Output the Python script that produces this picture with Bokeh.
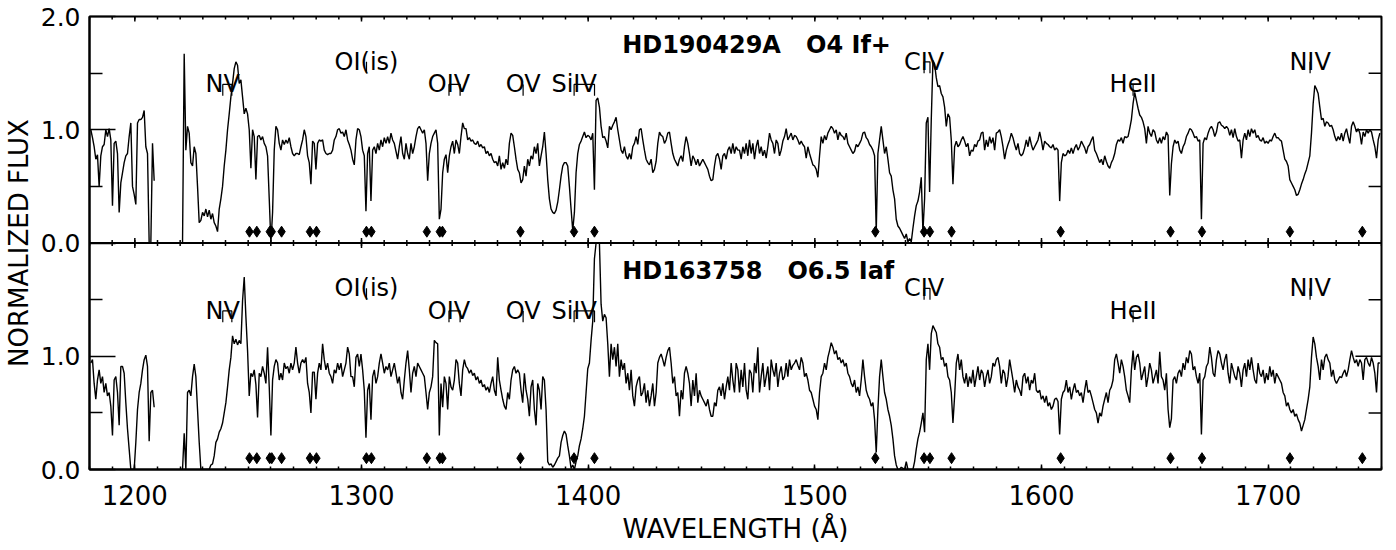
import numpy as np
from bokeh.plotting import figure
from bokeh.models import (Range1d, LinearAxis, FixedTicker, Span,
                          PrintfTickFormatter)
from bokeh.core.properties import value
from bokeh.embed import file_html
from bokeh.resources import INLINE

# ---------------- data ----------------
# uniformly sampled wavelength grid of both IUE spectra
WAVE_START = 1178.37   # Angstrom, first sample
WAVE_STEP = 0.7357     # Angstrom per sample

# HD190429A  O4 If+  (normalized flux), None = no data
flux_hd190429a = [
    None, None, None,
    1.00, 0.93, 0.85, 0.74, 0.78, 0.50, 0.77, 0.85, 0.87, 1.00,
    0.94, 1.01, 0.91, 0.33, 0.88, 0.90, 0.79, 0.27, 0.53, 0.62,
    0.71, 0.77, 0.79, 0.94, 1.06, 0.50, 0.43, 0.34, 1.06, 1.09,
    1.09, 1.11, 1.17, 0.85, 0.79, 0.00, 0.00, 0.88, 0.55,
    None, None, None, None, None, None, None, None, None, None, None, None, None, None, None, None,
    0.00, 1.67, 0.82, 1.03, 0.97, 0.71, 0.68, 0.85, 0.79, 0.50,
    0.18, 0.20, 0.27, 0.24, 0.30, 0.23, 0.29, 0.21, 0.26, 0.18,
    0.15, 0.10, 0.30, 0.39, 0.50, 0.68, 0.82, 1.00, 1.14, 1.29,
    1.41, 1.54, 1.60, 1.57, 1.41, 1.44, 1.29, 1.14, 1.19, 1.14,
    1.00, 0.66, 1.00, 0.94, 0.56, 0.94, 0.95, 0.91, 0.94, 0.88,
    0.85, 0.77, 0.39, 0.00, 0.27, 0.82, 1.03, 1.00, 0.88, 0.82,
    0.91, 0.87, 0.91, 0.88, 0.93, 0.85, 0.79, 0.77, 0.79, 0.79,
    0.78, 0.85, 0.91, 1.00, 0.94,
    0.77, 0.71, 0.52, 0.90, 0.88, 0.65, 0.88, 0.91, 0.90, 0.91,
    0.82, 0.79, 0.78, 0.79, 0.79, 0.82, 0.91, 0.94, 1.00, 1.01,
    0.97, 0.98, 0.94, 1.00, 0.91, 0.87, 0.82, 0.74, 0.69, 0.91,
    1.01, 1.00, 0.94, 0.82, 0.77, 0.28, 0.79, 0.85, 0.37, 0.82,
    0.85, 0.79, 0.88, 0.82, 0.91, 0.85, 0.93, 0.88, 0.94, 0.88,
    0.97, 0.91, 0.88, 0.81, 0.74, 0.85, 0.94, 0.79, 0.74, 0.88,
    0.79, 0.74, 0.88, 0.79, 0.85, 0.94, 1.01, 1.03, 1.00, 0.97,
    1.00, 0.88, 0.55, 0.79, 0.88, 0.94, 0.97, 1.00, 0.88, 0.21,
    0.30, 0.62, 0.74, 0.78, 0.62, 0.77, 0.85, 0.90, 0.79, 0.91,
    0.87, 0.79, 0.94, 1.06, 1.01, 1.01, 0.91, 0.93, 0.90, 0.91,
    0.88, 0.87, 0.90, 0.85, 0.87, 0.84, 0.85, 0.79, 0.81, 0.77,
    0.79, 0.74, 0.71, 0.72, 0.68, 0.77, 0.65, 0.71, 0.66, 0.74,
    0.69, 0.88, 0.97, 0.95, 0.85, 0.74, 0.65, 0.62, 0.53, 0.56,
    0.68, 0.59, 0.74, 0.68, 0.77, 0.74, 0.85, 0.79, 0.88, 0.68,
    0.77, 0.85, 0.98, 0.79, 0.56, 0.39, 0.30, 0.27, 0.26, 0.29,
    0.36, 0.47, 0.59, 0.68, 0.71, 0.71, 0.68, 0.50, 0.30, 0.11,
    0.27, 0.62, 0.79, 0.87, 0.90, 0.94, 0.98, 0.93, 0.95, 0.94,
    0.91, 0.97, 0.47, 1.26, 1.28, 1.20, 1.03, 0.93, 0.94, 0.90,
    0.84, 1.03, 1.00, 1.04, 1.07, 1.11, 1.00, 0.91, 0.82, 0.79,
    0.85, 0.77, 0.74, 0.79, 0.74, 0.85, 0.88, 0.94, 0.87, 1.00,
    1.01, 0.91, 0.82, 0.74, 0.71, 0.69, 0.74, 0.62, 0.65, 0.72,
    0.88, 0.98, 0.95, 0.94, 0.88, 0.91, 0.97, 0.98, 0.88, 0.79,
    0.74, 0.71, 0.68, 0.74, 0.77, 0.72, 0.85, 0.94, 0.88, 0.79,
    0.68, 0.77, 0.74, 0.69, 0.74, 0.68, 0.71, 0.74, 0.71, 0.68,
    0.65, 0.59, 0.55, 0.56, 0.68, 0.77, 0.79, 0.74, 0.65, 0.77,
    0.79, 0.74, 0.82, 0.85, 0.79, 0.88, 0.79, 0.85, 0.82,
    0.82, 0.74, 0.85, 0.79, 0.88, 0.77, 0.91, 0.79, 0.88, 0.74,
    0.85, 0.91, 0.79, 0.85, 0.77, 0.82, 0.75, 0.85, 0.97, 0.91,
    0.88, 0.79, 0.91, 0.88, 0.77, 0.82, 0.90, 0.94, 1.01, 0.91,
    0.94, 0.97, 0.91, 0.95, 0.94, 0.91, 0.87, 0.90, 0.87, 0.85,
    0.75, 0.85, 0.79, 0.74, 0.69, 0.68, 0.65, 0.58, 0.77, 0.94,
    0.88, 0.95, 0.91, 0.97, 1.00, 1.03, 1.01, 0.97, 1.00, 0.91,
    0.98, 0.95, 0.94, 0.91, 0.97, 0.88, 0.85, 0.82, 0.79, 0.81,
    0.87, 0.85, 0.88, 0.91, 0.97, 0.98, 0.93, 0.91, 0.87, 0.85,
    0.82, 0.77, 0.10, 0.79, 0.91, 1.03, 0.91, 0.79, 0.85, 0.74,
    0.62, 0.59, 0.47, 0.39, 0.21, 0.15, 0.13, 0.10, 0.07, 0.04,
    0.08, 0.01, 0.04, 0.01, 0.13, 0.24, 0.33, 0.37, 0.45, 0.58,
    0.10, 0.39, 1.06, 1.11, 0.45, 1.09, 1.61, 1.58, 1.46, 1.38,
    1.39, 1.32, 1.29, 1.20, 1.03, 1.14, 1.11, 0.91, 0.52, 0.85,
    0.90, 0.85, 0.87, 0.91, 0.94, 0.90, 0.85, 0.88, 0.77, 0.82,
    0.81, 0.87, 0.85, 0.90, 0.91, 0.97, 0.98, 0.82, 0.91, 0.85,
    0.94, 0.88, 0.93, 0.82, 0.97, 0.98, 1.00, 0.94, 0.85, 0.74,
    0.82, 0.87, 0.91, 0.97, 0.93, 0.87, 0.82, 0.88, 0.79, 0.77,
    0.79, 0.84, 0.91, 0.85, 0.94, 0.87, 0.82, 0.85, 0.88, 0.91,
    0.98, 0.91, 0.82, 0.90, 0.88, 0.87, 0.85, 0.84, 0.87, 0.82,
    0.84, 0.82, 0.37, 0.71, 0.79, 0.77, 0.78, 0.82, 0.79, 0.84,
    0.79, 0.84, 0.87, 0.82, 0.85, 0.90, 0.87, 0.84, 0.79, 0.85,
    0.87, 0.91, 0.94, 0.82, 0.79, 0.75, 0.71, 0.74, 0.69, 0.77,
    0.72, 0.68, 0.66, 0.71, 0.74, 0.79, 0.87, 0.91, 0.90, 0.93,
    0.88, 0.94, 0.93, 0.94, 1.01, 1.09, 1.23, 1.33, 1.26, 1.19,
    1.13, 1.11, 1.07, 1.01, 0.88, 1.03, 0.97, 0.94, 1.00, 0.98,
    0.91, 0.88, 0.93, 0.88, 0.94, 0.91, 0.98, 0.95, 0.42,
    0.70, 0.85, 0.91, 0.88, 0.90, 0.82, 0.79, 0.85, 0.88, 0.94,
    0.97, 1.01, 1.00, 0.97, 0.93, 0.94, 0.90, 0.91, 0.21, 0.88,
    0.93, 0.91, 0.97, 1.01, 1.03, 1.00, 0.94, 0.98, 1.06, 1.07,
    1.04, 1.03, 1.01, 1.03, 1.01, 0.95, 1.00, 0.93, 1.01, 0.94,
    0.90, 0.91, 0.75, 0.91, 0.97, 0.91, 1.00, 0.94, 1.01, 0.97,
    1.00, 0.93, 0.95, 0.91, 0.90, 0.93, 0.88, 0.90, 0.88, 0.91,
    0.90, 0.94, 0.97, 0.93, 0.93, 0.91, 0.90, 0.82, 0.74, 0.72,
    0.68, 0.56, 0.53, 0.50, 0.47, 0.42, 0.43, 0.47, 0.52, 0.56,
    0.61, 0.65, 0.71, 0.77, 0.97, 1.23, 1.39, 1.36, 1.32, 1.20,
    1.09, 1.10, 1.03, 1.07, 1.06, 1.03, 1.04, 1.00, 0.94, 0.90,
    0.94, 0.91, 0.97, 0.90, 0.97, 1.01, 0.94, 0.88, 1.03, 1.07,
    1.03, 0.98, 1.01, 0.97, 0.87, 0.98, 0.94, 1.00, 0.97, 1.00,
    0.98, 0.91, 0.85, 0.75, 0.91, 0.97,
]

# HD163758  O6.5 Iaf  (normalized flux), None = no data
flux_hd163758 = [
    None, None, None,
    0.94, 0.97, 0.76, 0.62, 0.79, 0.88, 0.76, 0.82, 0.68, 0.76,
    0.65, 0.68, 0.56, 0.30, 0.79, 0.82, 0.68, 0.39, 0.91, 0.91,
    0.85, 0.59, 0.36, 0.18, 0.00, 0.00, 0.00, 0.24, 0.53, 0.68,
    0.76, 0.88, 0.97, 1.01, 0.91, 0.25, 0.68, 0.70, 0.55,
    None, None, None, None, None, None, None, None, None, None, None, None, None, None, None, None,
    0.00, 0.32, 0.00, 0.68, 0.70, 0.65, 0.82, 0.93, 0.82, 0.53,
    0.24, 0.00, 0.00, 0.00, 0.00, 0.00, 0.00, 0.04, 0.05, 0.12,
    0.24, 0.27, 0.33, 0.36, 0.41, 0.50, 0.59, 0.73, 0.88, 0.99,
    1.18, 1.11, 1.15, 1.10, 1.14, 1.11, 1.49, 1.70, 1.35, 1.05,
    0.65, 0.85, 0.82, 0.88, 0.75, 0.46, 0.85, 0.82, 0.91, 0.85,
    0.76, 1.08, 0.73, 0.30, 0.79, 0.91, 0.97, 0.94, 0.79, 0.85,
    0.79, 0.94, 0.89, 0.91, 0.85, 0.94, 0.88, 0.94, 1.08, 0.94,
    0.85, 0.94, 0.97, 0.94, 0.99,
    0.76, 0.68, 0.50, 0.86, 0.86, 0.62, 0.85, 0.94, 0.88, 1.11,
    0.97, 0.88, 0.94, 0.85, 0.82, 0.76, 0.88, 0.85, 0.94, 0.88,
    0.94, 0.82, 0.88, 0.94, 1.08, 1.02, 0.82, 0.82, 0.73, 0.99,
    1.02, 0.91, 1.02, 0.88, 0.70, 0.28, 0.70, 0.76, 0.44, 0.82,
    0.88, 0.76, 0.82, 0.94, 1.02, 0.94, 0.85, 0.91, 0.88, 0.94,
    0.82, 0.88, 0.94, 0.85, 0.76, 0.82, 0.68, 0.62, 0.79, 0.94,
    1.05, 0.88, 0.68, 0.85, 0.91, 0.82, 0.94, 0.91, 0.88, 0.85,
    0.82, 0.68, 0.53, 0.68, 0.73, 0.82, 1.14, 1.12, 1.11, 0.30,
    0.76, 0.55, 0.82, 0.76, 0.53, 0.82, 0.73, 0.70, 0.79, 0.97,
    0.94, 0.76, 0.65, 0.88, 0.97, 0.91, 0.89, 0.85, 0.88, 0.83,
    0.85, 0.79, 0.82, 0.76, 0.79, 0.73, 0.75, 0.70, 0.73, 0.68,
    0.76, 0.82, 0.70, 0.65, 0.99, 0.79, 0.70, 0.62, 0.56, 0.53,
    0.68, 0.62, 0.79, 0.88, 0.91, 0.85, 0.88, 0.85, 0.70, 0.59,
    0.85, 0.70, 0.62, 0.47, 0.73, 0.79, 0.53, 0.39, 0.76, 0.70,
    0.53, 0.82, 0.79, 0.53, 0.07, 0.04, 0.05, 0.02, 0.04, 0.07,
    0.10, 0.12, 0.24, 0.30, 0.34, 0.31, 0.21, 0.12, 0.01, 0.04,
    0.00, 0.07, 0.12, 0.21, 0.27, 0.36, 0.47, 0.68, 0.89, 0.94,
    1.14, 1.31, 1.86, 2.00, 2.00, 2.00, 1.46, 1.31, 1.37, 1.34,
    1.11, 0.82, 1.11, 0.97, 1.08, 0.91, 1.11, 0.82, 0.97, 0.88,
    0.94, 0.76, 0.85, 0.70, 0.88, 0.65, 0.56, 0.73, 0.79, 0.82,
    0.65, 0.68, 0.76, 0.59, 0.70, 0.56, 0.65, 0.76, 0.56, 0.68,
    0.94, 0.99, 1.02, 0.97, 0.91, 0.99, 1.05, 1.08, 0.94, 0.76,
    0.82, 0.65, 0.68, 0.47, 0.70, 0.62, 0.85, 0.91, 0.85, 0.76,
    0.56, 0.79, 0.65, 0.85, 0.59, 0.70, 0.65, 0.62, 0.59, 0.56,
    0.62, 0.53, 0.47, 0.47, 0.59, 0.56, 0.70, 0.73, 0.65, 0.76,
    0.62, 0.73, 0.82, 0.70, 0.94, 0.79, 0.68, 0.94, 0.88,
    0.68, 0.88, 0.73, 0.94, 0.70, 0.62, 0.88, 0.85, 0.68, 0.94,
    0.85, 1.08, 0.68, 0.82, 0.94, 0.73, 0.82, 0.91, 0.70, 0.97,
    0.88, 0.82, 0.94, 0.73, 0.85, 0.91, 0.79, 0.82, 0.94, 0.82,
    0.97, 0.88, 0.92, 0.94, 0.97, 0.92, 0.88, 0.99, 0.94, 0.82,
    0.85, 0.79, 0.70, 0.68, 0.62, 0.56, 0.53, 0.44, 0.68, 0.82,
    0.85, 0.94, 0.88, 0.99, 1.05, 1.12, 1.08, 1.02, 1.05, 0.97,
    0.99, 0.94, 0.97, 0.91, 0.94, 0.85, 0.82, 0.76, 0.73, 0.79,
    0.68, 0.73, 0.65, 0.79, 0.97, 0.82, 0.70, 0.65, 0.62, 0.56,
    0.59, 0.44, 0.15, 0.53, 0.82, 0.97, 0.82, 0.68, 0.62, 0.53,
    0.47, 0.39, 0.27, 0.12, 0.04, 0.00, 0.00, 0.02, 0.01, 0.00,
    0.07, 0.00, 0.00, 0.00, 0.00, 0.07, 0.18, 0.27, 0.33, 0.41,
    0.50, 0.33, 0.97, 1.11, 0.88, 1.20, 1.27, 1.24, 1.21, 1.11,
    1.08, 0.97, 0.99, 0.91, 0.94, 0.82, 0.79, 0.68, 0.41, 0.65,
    0.94, 1.02, 0.88, 0.97, 0.82, 0.76, 0.85, 0.73, 0.82, 0.76,
    0.88, 0.73, 0.82, 0.91, 0.79, 0.88, 0.85, 0.73, 0.82, 0.88,
    0.76, 0.82, 0.94, 0.91, 0.97, 0.99, 0.91, 0.76, 0.88, 0.85,
    0.73, 0.82, 0.97, 0.88, 0.79, 0.68, 0.79, 0.73, 0.70, 0.65,
    0.82, 0.85, 0.76, 0.82, 0.70, 0.79, 0.76, 0.85, 0.70, 0.68,
    0.70, 0.62, 0.65, 0.59, 0.65, 0.56, 0.59, 0.53, 0.56, 0.62,
    0.63, 0.60, 0.31, 0.62, 0.68, 0.70, 0.79, 0.68, 0.73, 0.62,
    0.70, 0.76, 0.68, 0.70, 0.65, 0.68, 0.59, 0.70, 0.79, 0.68,
    0.70, 0.65, 0.59, 0.53, 0.50, 0.41, 0.50, 0.47, 0.56, 0.62,
    0.68, 0.59, 0.70, 0.73, 0.79, 0.97, 1.02, 0.94, 0.85, 0.97,
    0.91, 0.82, 0.70, 0.65, 0.59, 0.88, 1.05, 0.88, 0.99, 1.02,
    0.94, 0.79, 0.85, 0.91, 0.73, 0.82, 0.94, 0.88, 0.76, 0.82,
    0.88, 0.76, 1.04, 0.82, 0.79, 0.70, 0.85, 0.53, 0.37,
    0.45, 0.79, 0.82, 0.76, 0.85, 0.88, 0.82, 0.94, 0.88, 0.99,
    0.94, 1.05, 1.02, 0.88, 0.91, 0.82, 0.76, 0.85, 0.31, 0.79,
    0.82, 0.91, 0.94, 1.08, 0.99, 0.85, 0.82, 0.97, 1.05, 1.02,
    0.94, 0.88, 0.97, 1.02, 0.85, 0.76, 0.94, 0.88, 0.82, 0.79,
    0.91, 0.85, 0.73, 0.88, 0.94, 0.82, 0.97, 0.88, 0.99, 0.88,
    0.79, 0.76, 0.94, 0.85, 0.82, 0.88, 0.76, 0.85, 0.79, 0.91,
    0.82, 0.88, 0.76, 0.85, 0.82, 0.79, 0.76, 0.68, 0.65, 0.56,
    0.59, 0.53, 0.50, 0.53, 0.47, 0.49, 0.44, 0.41, 0.34, 0.39,
    0.44, 0.53, 0.62, 0.73, 0.99, 1.17, 1.11, 0.99, 0.91, 0.79,
    0.97, 0.88, 0.99, 1.02, 0.97, 0.94, 0.82, 0.88, 0.79, 0.76,
    0.79, 0.82, 0.81, 0.85, 0.88, 0.82, 0.88, 0.97, 1.05, 0.99,
    0.94, 0.97, 0.91, 0.97, 0.94, 0.79, 0.97, 0.99, 0.94, 0.91,
    0.99, 0.94, 0.85, 0.68, 0.94, 0.94,
]

star_titles = ["HD190429A\u00a0\u00a0\u00a0O4 If+", "HD163758\u00a0\u00a0\u00a0O6.5 Iaf"]
title_wave = 1415.0
title_level = 1.75

# wind / photospheric line identifications
line_names = ["NV", "OI(is)", "OIV", "OV", "SiIV", "CIV", "HeII", "NIV"]
line_wave1 = [1238.8, 1302.2, 1338.6, 1371.3, 1393.8, 1548.2, 1640.4, 1718.5]
line_wave2 = [1242.8, None, 1343.5, None, 1402.8, 1550.8, None, None]
line_level = [1.4, 1.6, 1.4, 1.4, 1.4, 1.6, 1.4, 1.6]
MARK_DROP = 0.1

# interstellar lines (diamonds)
ism_wave = [1250.58, 1253.81, 1259.52, 1260.42, 1264.74, 1277.25, 1280.13,
            1302.17, 1304.37, 1328.83, 1334.53, 1335.71, 1370.13, 1393.76,
            1402.77, 1526.71, 1548.20, 1550.78, 1560.31, 1608.45, 1656.93,
            1670.79, 1709.60, 1741.55]
ism_level = 0.1

x_major = [1200, 1300, 1400, 1500, 1600, 1700]
x_minor = list(range(1180, 1751, 10))
y_major = [0, 1, 2, 3, 4]
y_minor = [0.5, 1.5, 2.5, 3.5]

X_LO, X_HI = 1180, 1750

# ---------------- figure ----------------
FONT = "DejaVu Sans"
wave = WAVE_START + WAVE_STEP * np.arange(len(flux_hd190429a))
f_top = np.array(flux_hd190429a, dtype=float)
f_bot = np.array(flux_hd163758, dtype=float)

p = figure(width=1392, height=550, output_backend="svg", toolbar_location=None,
           x_range=Range1d(X_LO, X_HI), y_range=Range1d(0, 4),
           x_axis_type=None, y_axis_type=None,
           min_border_left=89, min_border_right=11, min_border_top=16,
           min_border_bottom=81)
p.extra_y_ranges = {"top": Range1d(-2, 2)}   # upper panel: its flux 0..2
p.outline_line_color = "black"
p.outline_line_width = 2
p.background_fill_color = "white"
p.border_fill_color = "white"


def style_axis(ax, tin, tmin, label_px):
    ax.axis_line_width = 2
    ax.axis_line_color = "black"
    ax.major_tick_in = tin
    ax.major_tick_out = 0
    ax.minor_tick_in = tmin
    ax.minor_tick_out = 0
    ax.major_tick_line_width = 1.5
    ax.minor_tick_line_width = 1.5
    ax.major_tick_line_color = "black"
    ax.minor_tick_line_color = "black"
    ax.major_label_text_font = FONT
    ax.major_label_text_font_size = label_px
    ax.major_label_text_color = "black"
    ax.axis_label_text_font = FONT
    ax.axis_label_text_font_size = "26px"
    ax.axis_label_text_font_style = "normal"
    ax.axis_label_text_color = "black"


xb = LinearAxis(ticker=FixedTicker(ticks=x_major, minor_ticks=x_minor),
                axis_label="WAVELENGTH (Å)")
style_axis(xb, 5, 3, "26px")
xb.major_label_standoff = 15
xb.axis_label_standoff = 6
p.add_layout(xb, "below")

yl = LinearAxis(ticker=FixedTicker(ticks=y_major, minor_ticks=y_minor),
                formatter=PrintfTickFormatter(format="%.1f"),
                axis_label="NORMALIZED FLUX")
# ticks 2..4 belong to the upper panel's own scale (its flux 0, 1, 2)
yl.major_label_overrides = {2: "0.0", 3: "1.0", 4: "2.0"}
style_axis(yl, 26, 13, "25px")
yl.major_label_standoff = 9
yl.axis_label_standoff = 4
p.add_layout(yl, "left")

# ticks on the top and right frame edges (inward), and on the panel boundary
TX_MAJ, TX_MIN = 0.044, 0.026        # x-tick lengths (flux units)
TY_MAJ, TY_MIN = 11.5, 5.7           # y-tick lengths (Angstrom)
xmaj = np.array(x_major, dtype=float)
xmin_ = np.array(x_minor, dtype=float)
p.segment(x0=xmin_, y0=4 - TX_MIN, x1=xmin_, y1=4, line_color="black", line_width=1.5)
p.segment(x0=xmaj, y0=4 - TX_MAJ, x1=xmaj, y1=4, line_color="black", line_width=1.5)
p.add_layout(Span(location=2, dimension="width", line_color="black", line_width=2))
p.segment(x0=xmin_, y0=2 - TX_MIN, x1=xmin_, y1=2 + TX_MIN, line_color="black", line_width=1.5)
p.segment(x0=xmaj, y0=2 - TX_MAJ, x1=xmaj, y1=2 + TX_MAJ, line_color="black", line_width=1.5)
ymaj = np.array(y_major, dtype=float)
ymin_ = np.array(y_minor, dtype=float)
p.segment(x0=X_HI - TY_MAJ, y0=ymaj, x1=X_HI, y1=ymaj, line_color="black", line_width=1.5)
p.segment(x0=X_HI - TY_MIN, y0=ymin_, x1=X_HI, y1=ymin_, line_color="black", line_width=1.5)

# spectra
p.line(wave, f_top, y_range_name="top", line_color="black", line_width=1.4)
p.line(wave, f_bot, line_color="black", line_width=1.4)


def mark_lines(range_name):
    xs, ys = [], []
    for w1, w2, lv in zip(line_wave1, line_wave2, line_level):
        if w2 is None:
            xs.append([w1, w1])
            ys.append([lv, lv - MARK_DROP])
        else:
            xs.append([w1, w1, w2, w2])
            ys.append([lv - MARK_DROP, lv, lv, lv - MARK_DROP])
    kw = {} if range_name is None else {"y_range_name": range_name}
    p.multi_line(xs, ys, line_color="black", line_width=1.2, **kw)
    p.text(x=line_wave1, y=line_level, text=line_names, text_align="center",
           text_baseline="alphabetic", text_font=value(FONT),
           text_font_size="24px", text_color="black", **kw)
    p.scatter(ism_wave, [ism_level] * len(ism_wave), marker="diamond",
              size=11, color="black", **kw)


mark_lines("top")
mark_lines(None)

p.text(x=[title_wave], y=[title_level], text=[star_titles[0]], y_range_name="top",
       text_font=value(FONT), text_font_size="24px", text_font_style="bold",
       text_color="black", text_align="left", text_baseline="alphabetic")
p.text(x=[title_wave], y=[title_level], text=[star_titles[1]],
       text_font=value(FONT), text_font_size="24px", text_font_style="bold",
       text_color="black", text_align="left", text_baseline="alphabetic")

open("out.html", "w").write(file_html(p, INLINE))
